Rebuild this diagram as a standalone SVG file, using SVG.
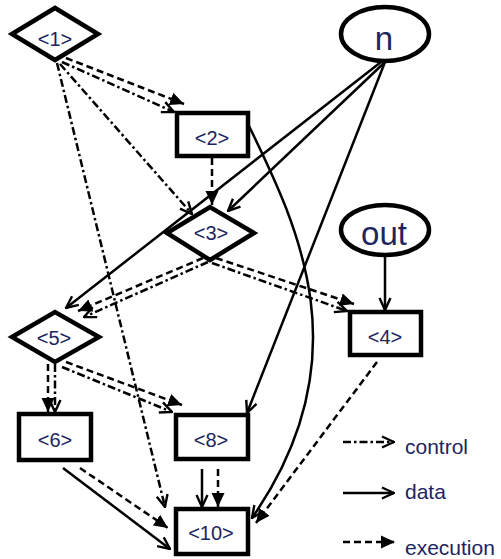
<svg xmlns="http://www.w3.org/2000/svg" width="501" height="559" viewBox="0 0 501 559">
<style>
.node{fill:#fff;stroke:#000;stroke-width:4.5;stroke-linejoin:miter}
.lbl{font-family:"Liberation Sans",Arial,sans-serif;font-size:20px;fill:#1c2560;text-anchor:middle}
.big{font-size:33px}
.leg{font-family:"Liberation Sans",Arial,sans-serif;font-size:21px;fill:#1c2560}
.e{fill:none;stroke:#000;stroke-width:2.5}
.ctl{stroke-dasharray:8 3 2.5 3;marker-end:url(#open)}
.dat{marker-end:url(#open)}
.exe{stroke-dasharray:7 4;marker-end:url(#fill)}
</style>
<defs>
<marker id="open" viewBox="0 0 14 14" refX="13" refY="7" markerWidth="14" markerHeight="14" orient="auto" markerUnits="userSpaceOnUse">
<path d="M1,1.5 L13,7 L1,12.5" fill="none" stroke="#000" stroke-width="2.4"/>
</marker>
<marker id="fill" viewBox="0 0 14 14" refX="14" refY="7" markerWidth="14" markerHeight="14" orient="auto" markerUnits="userSpaceOnUse">
<path d="M0,0.5 L14,7 L0,13.5 z" fill="#000"/>
</marker>
</defs>
<g id="connectors">
<line class="e exe" x1="66" y1="58" x2="184" y2="104"/>
<line class="e ctl" x1="62" y1="62" x2="174" y2="112"/>
<line class="e ctl" x1="60" y1="64" x2="192" y2="214"/>
<line class="e ctl" x1="57" y1="63" x2="165" y2="507"/>
<line class="e exe" x1="212" y1="158" x2="212" y2="205"/>
<path class="e dat" d="M248,124 C300,230 362,360 252,518"/>
<line class="e dat" x1="385" y1="62" x2="228" y2="211"/>
<line class="e dat" x1="381" y1="62" x2="66" y2="308"/>
<line class="e dat" x1="385" y1="62" x2="247" y2="413"/>
<line class="e dat" x1="385" y1="257" x2="385" y2="310"/>
<line class="e exe" x1="203" y1="258" x2="78" y2="311"/>
<line class="e ctl" x1="208" y1="262" x2="84" y2="317"/>
<line class="e exe" x1="216" y1="258" x2="354" y2="304"/>
<line class="e ctl" x1="212" y1="263" x2="347" y2="311"/>
<line class="e exe" x1="48" y1="364" x2="48" y2="412"/>
<line class="e ctl" x1="55" y1="364" x2="55" y2="412"/>
<line class="e exe" x1="66" y1="362" x2="182" y2="405"/>
<line class="e ctl" x1="62" y1="367" x2="172" y2="412"/>
<line class="e dat" x1="63" y1="468" x2="170" y2="549"/>
<line class="e exe" x1="80" y1="468" x2="168" y2="528"/>
<line class="e dat" x1="202" y1="469" x2="202" y2="507"/>
<line class="e exe" x1="218" y1="469" x2="218" y2="507"/>
<line class="e exe" x1="377" y1="362" x2="256" y2="523"/>
</g>
<g id="node1"><polygon class="node" points="12,34 55,8 98,34 55,60"/><text class="lbl" x="55" y="46">&lt;1&gt;</text></g>
<g id="node2"><rect class="node" x="177" y="113" width="71" height="43"/><text class="lbl" x="212" y="145">&lt;2&gt;</text></g>
<g id="nodeN"><ellipse class="node" cx="385" cy="34" rx="44" ry="27"/><text class="lbl big" x="384" y="50">n</text></g>
<g id="node3"><polygon class="node" points="167,233 210,207 254,233 210,260"/><text class="lbl" x="211" y="240">&lt;3&gt;</text></g>
<g id="nodeOut"><ellipse class="node" cx="385" cy="230" rx="44" ry="25"/><text class="lbl big" x="384" y="245">out</text></g>
<g id="node4"><rect class="node" x="350" y="312" width="71" height="43"/><text class="lbl" x="385" y="344">&lt;4&gt;</text></g>
<g id="node5"><polygon class="node" points="12,337 55,312 99,337 55,362"/><text class="lbl" x="54" y="345">&lt;5&gt;</text></g>
<g id="node6"><rect class="node" x="19" y="414" width="72" height="46"/><text class="lbl" x="55" y="447">&lt;6&gt;</text></g>
<g id="node8"><rect class="node" x="176" y="415" width="72" height="44"/><text class="lbl" x="211" y="447">&lt;8&gt;</text></g>
<g id="node10"><rect class="node" x="176" y="509" width="72" height="45"/><text class="lbl" x="211" y="540">&lt;10&gt;</text></g>
<g id="legend">
<line class="e ctl" x1="343" y1="442" x2="394" y2="442"/>
<text class="leg" x="405" y="454">control</text>
<line class="e dat" x1="343" y1="493" x2="394" y2="493"/>
<text class="leg" x="405" y="499">data</text>
<line class="e exe" x1="343" y1="542" x2="395" y2="542"/>
<text class="leg" x="405" y="555">execution</text>
</g>
</svg>
